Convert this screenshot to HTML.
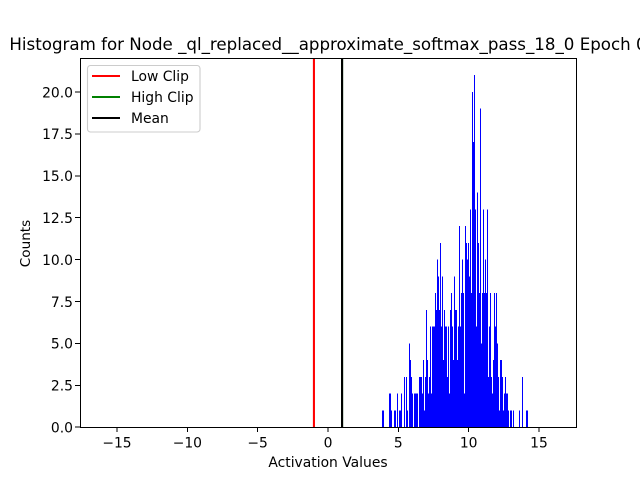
<!DOCTYPE html>
<html>
<head>
<meta charset="utf-8">
<style>
html,body{margin:0;padding:0;background:#fff;width:640px;height:480px;overflow:hidden}
svg{display:block}
text{font-family:"DejaVu Sans","Liberation Sans",sans-serif;fill:#000}
</style>
</head>
<body>
<svg id="chart" width="640" height="480" viewBox="0 0 640 480" xmlns="http://www.w3.org/2000/svg">
<rect x="0" y="0" width="640" height="480" fill="#fff"/>
<text x="328" y="50" font-size="16.67" text-anchor="middle">Histogram for Node _ql_replaced__approximate_softmax_pass_18_0 Epoch 0</text>
<g id="bars" shape-rendering="crispEdges"></g>
<g id="vlines"></g>
<g id="xticks"></g>
<g id="yticks"></g>
<rect x="80.5" y="58.5" width="496" height="369" fill="none" stroke="#000" stroke-width="1" shape-rendering="crispEdges"/>
<text x="328" y="467" font-size="13.89" text-anchor="middle">Activation Values</text>
<text x="30" y="243.5" font-size="13.6" text-anchor="middle" transform="rotate(-90 30 243.5)">Counts</text>
<g>
<rect x="87.5" y="65.5" width="112.5" height="66.5" rx="3" fill="#fff" fill-opacity="0.8" stroke="#ccc" stroke-width="1.1"/>
<line x1="92" x2="120" y1="76" y2="76" stroke="#f00" stroke-width="2.08"/>
<text x="131" y="81" font-size="13.89">Low Clip</text>
<line x1="92" x2="120" y1="97" y2="97" stroke="#008000" stroke-width="2.08"/>
<text x="131" y="102" font-size="13.89">High Clip</text>
<line x1="92" x2="120" y1="118" y2="118" stroke="#000" stroke-width="2.08"/>
<text x="131" y="123" font-size="13.89">Mean</text>
</g>
</svg>
<script>
const binStart = 3.84;
const binWidth = 0.0711;
const counts = [1,1,0,0,0,0,0,2,2,1,0,0,1,1,0,2,0,1,1,2,0,0,3,0,3,1,0,5,4,3,2,0,2,2,2,2,0,3,3,3,2,4,1,3,7,4,2,3,6,2,6,6,6,8,7,10,9,7,11,6,9,4,7,6,6,3,6,2,7,8,6,4,9,7,7,4,6,12,6,8,10,8,2,12,11,10,11,9,13,8,20,17,21,13,6,14,11,8,19,5,8,13,8,10,8,13,3,6,8,3,2,4,8,6,8,5,3,1,4,4,3,1,2,3,2,2,1,0,1,1,0,1,0,0,0,0,0,1,0,0,3,0,0,0,1,1];
const xTickValues = [-15,-10,-5,0,5,10,15];
const yTickValues = [0,2.5,5,7.5,10,12.5,15,17.5,20];
const lowClip = -1;
const highClip = 1;
const meanValue = 1;
const xMin = -17.63, xMax = 17.63, yMin = 0, yMax = 22.05;
const NS = 'http://www.w3.org/2000/svg';
function xScale(v){ return 80 + (v - xMin) / (xMax - xMin) * 496; }
function yScale(v){ return 427.2 - (v - yMin) / (yMax - yMin) * 369.6; }
function make(tag, attrs, parent){
  const el = document.createElementNS(NS, tag);
  for (const k in attrs) el.setAttribute(k, attrs[k]);
  parent.appendChild(el);
  return el;
}
const barsG = document.getElementById('bars');
counts.forEach(function(c, i){
  if (!c) return;
  const x0 = Math.round(xScale(binStart + i * binWidth));
  const x1 = Math.round(xScale(binStart + (i + 1) * binWidth));
  const y0 = yScale(c);
  const r = make('rect', {x: x0, y: y0, width: Math.max(1, x1 - x0), height: yScale(0) - y0, fill: '#0000ff'}, barsG);
  
  
});
const vG = document.getElementById('vlines');
const lowLine = make('line', {x1: xScale(lowClip), x2: xScale(lowClip), y1: 58, y2: 427.2, stroke: '#f00', 'stroke-width': 2.08}, vG);


const highLine = make('line', {x1: xScale(highClip), x2: xScale(highClip), y1: 58, y2: 427.2, stroke: '#008000', 'stroke-width': 2.08}, vG);


const meanLine = make('line', {x1: xScale(meanValue), x2: xScale(meanValue), y1: 58, y2: 427.2, stroke: '#000', 'stroke-width': 2.08}, vG);


const xG = document.getElementById('xticks');
xTickValues.forEach(function(v){
  const x = xScale(v);
  const tick = make('line', {x1: x, x2: x, y1: 427.2, y2: 432, stroke: '#000', 'stroke-width': 1, 'shape-rendering': 'crispEdges'}, xG);
  
  
  const label = make('text', {x: x, y: 447.5, 'font-size': 13.89, 'text-anchor': 'middle'}, xG);
  
  
  label.textContent = String(v).replace('-', '\u2212');
});
const yG = document.getElementById('yticks');
yTickValues.forEach(function(v){
  const y = yScale(v);
  const tick = make('line', {x1: 75.2, x2: 80, y1: y, y2: y, stroke: '#000', 'stroke-width': 1, 'shape-rendering': 'crispEdges'}, yG);
  
  
  const label = make('text', {x: 73, y: y + 5.3, 'font-size': 13.89, 'text-anchor': 'end'}, yG);
  
  
  label.textContent = v.toFixed(1);
});
</script>
</body>
</html>
